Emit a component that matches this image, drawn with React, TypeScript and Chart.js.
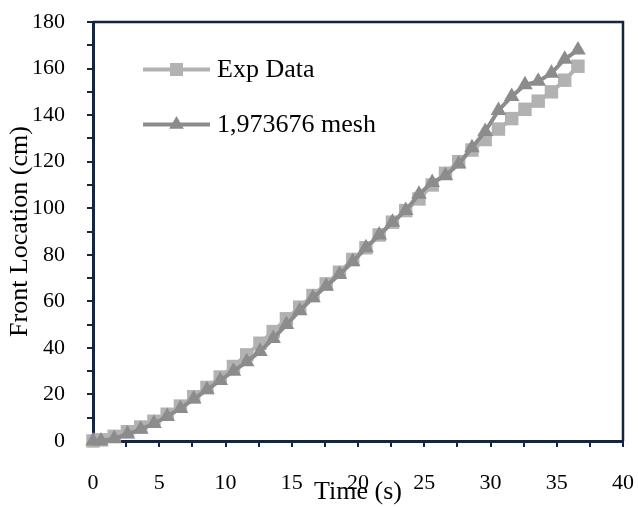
import React, { useEffect, useRef } from "react";
import { Chart, registerables } from "chart.js";

Chart.register(...registerables);

const times = [0, 0.6, 1.6, 2.6, 3.6, 4.6, 5.6, 6.6, 7.6, 8.6, 9.6, 10.6, 11.6, 12.6, 13.6, 14.6, 15.6, 16.6, 17.6, 18.6, 19.6, 20.6, 21.6, 22.6, 23.6, 24.6, 25.6, 26.6, 27.6, 28.6, 29.6, 30.6, 31.6, 32.6, 33.6, 34.6, 35.6, 36.6];
const expData = [0, 0.5, 2, 4, 6, 8.5, 11.5, 15, 19, 23, 27.5, 32, 37, 42, 47, 52.5, 57.5, 62.5, 67.5, 72.5, 78, 83, 88.5, 94, 99, 104, 110, 115, 120, 125, 129.5, 134, 138.5, 142.5, 146, 150, 155, 161];
const meshData = [0, 0, 1, 3, 5, 7.5, 10.5, 14, 18, 22, 26, 30, 34, 38.5, 44, 50, 56, 61.5, 66.5, 71.5, 77, 83, 88.5, 94, 99, 106, 111, 114, 119, 126, 133, 142, 148, 153, 154.5, 158, 164, 168];
const seriesNames = ["Exp Data", "1,973676 mesh"];
const xTitle = "Time (s)";
const yTitle = "Front Location (cm)";

const NAVY = "#14253f";
const LIGHT = "#b2b2b2";
const DARK = "#8c8c8c";
const FONT = '"Liberation Serif", "Times New Roman", serif';

const framePlugin = {
  id: "frame",
  beforeDatasetsDraw(chart: any) {
    const { ctx, chartArea } = chart;
    ctx.save();
    ctx.strokeStyle = NAVY;
    ctx.lineWidth = 2.5;
    ctx.beginPath();
    ctx.moveTo(chartArea.left, chartArea.top);
    ctx.lineTo(chartArea.right, chartArea.top);
    ctx.lineTo(chartArea.right, chartArea.bottom);
    ctx.stroke();
    ctx.restore();
  },
};

const legendPlugin = {
  id: "customLegend",
  afterDraw(chart: any) {
    const { ctx, chartArea } = chart;
    const items = [
      { label: seriesNames[0], color: LIGHT, style: "rect", dy: 47.5 },
      { label: seriesNames[1], color: DARK, style: "triangle", dy: 102.5 },
    ];
    ctx.save();
    items.forEach((it) => {
      const y = chartArea.top + it.dy;
      const x0 = chartArea.left + 50;
      const x1 = chartArea.left + 117;
      const cx = (x0 + x1) / 2;
      ctx.strokeStyle = it.color;
      ctx.lineWidth = 4;
      ctx.beginPath();
      ctx.moveTo(x0, y);
      ctx.lineTo(x1, y);
      ctx.stroke();
      ctx.fillStyle = it.color;
      if (it.style === "rect") {
        ctx.fillRect(cx - 6.5, y - 6.5, 13, 13);
      } else {
        const r = 8.5;
        ctx.beginPath();
        ctx.moveTo(cx, y - r);
        ctx.lineTo(cx + r * Math.sin((2 * Math.PI) / 3), y - r * Math.cos((2 * Math.PI) / 3));
        ctx.lineTo(cx + r * Math.sin((4 * Math.PI) / 3), y - r * Math.cos((4 * Math.PI) / 3));
        ctx.closePath();
        ctx.fill();
      }
      ctx.fillStyle = "#000";
      ctx.font = `26px ${FONT}`;
      ctx.textBaseline = "middle";
      ctx.textAlign = "left";
      ctx.fillText(it.label, x1 + 7, y + 1);
    });
    ctx.restore();
  },
};

export default function App() {
  const ref = useRef<HTMLCanvasElement>(null);
  useEffect(() => {
    if (!ref.current) return;
    const chart = new Chart(ref.current, {
      type: "line",
      data: {
        datasets: [
          {
            label: seriesNames[0],
            data: times.map((t, i) => ({ x: t, y: expData[i] })),
            borderColor: LIGHT,
            backgroundColor: LIGHT,
            borderWidth: 4,
            pointStyle: "rect",
            pointRadius: 9.5,
            pointBorderWidth: 0,
            pointBackgroundColor: LIGHT,
            tension: 0,
            clip: false as any,
            order: 2,
          },
          {
            label: seriesNames[1],
            data: times.map((t, i) => ({ x: t, y: meshData[i] })),
            borderColor: DARK,
            backgroundColor: DARK,
            borderWidth: 4,
            pointStyle: "triangle",
            pointRadius: 9,
            pointBorderWidth: 0,
            pointBackgroundColor: DARK,
            tension: 0,
            clip: false as any,
            order: 1,
          },
        ],
      },
      options: {
        animation: false,
        responsive: false,
        layout: { padding: { top: 22, right: 15, left: 0, bottom: 0 } },
        plugins: { legend: { display: false }, tooltip: { enabled: false } },
        scales: {
          x: {
            type: "linear",
            min: 0,
            max: 40,
            afterFit: (s: any) => {
              s.height = 66;
              s.paddingLeft = 0;
              s.paddingRight = 0;
            },
            ticks: {
              stepSize: 2.5,
              autoSkip: false,
              maxRotation: 0,
              padding: 23,
              color: "#000",
              font: { family: FONT, size: 22 },
              callback: (v: any) => (Number(v) % 5 === 0 ? String(v) : ""),
            },
            grid: { drawOnChartArea: false, drawTicks: true, tickLength: 6, color: NAVY, lineWidth: 2 },
            border: { display: true, color: NAVY, width: 3 },
            title: {
              display: true,
              text: xTitle,
              color: "#000",
              font: { family: FONT, size: 26 },
              padding: { top: 0, bottom: -1 },
            },
          },
          y: {
            type: "linear",
            min: 0,
            max: 180,
            afterFit: (s: any) => {
              s.width = 93;
              s.paddingTop = 0;
              s.paddingBottom = 0;
            },
            ticks: {
              stepSize: 10,
              autoSkip: false,
              padding: 22,
              color: "#000",
              font: { family: FONT, size: 22 },
              callback: (v: any) => (Number(v) % 20 === 0 ? String(v) : ""),
            },
            grid: { drawOnChartArea: false, drawTicks: true, tickLength: 6, color: NAVY, lineWidth: 2 },
            border: { display: true, color: NAVY, width: 3 },
            title: {
              display: true,
              text: yTitle,
              color: "#000",
              font: { family: FONT, size: 26 },
              padding: { top: 5, bottom: 0 },
            },
          },
        },
      },
      plugins: [framePlugin, legendPlugin],
    } as any);
    return () => chart.destroy();
  }, []);
  return (
    <div style={{ position: "absolute", left: 0, top: 0, width: 638, height: 507, background: "#fff" }}>
      <canvas ref={ref} width={638} height={507} style={{ display: "block" }} />
    </div>
  );
}
